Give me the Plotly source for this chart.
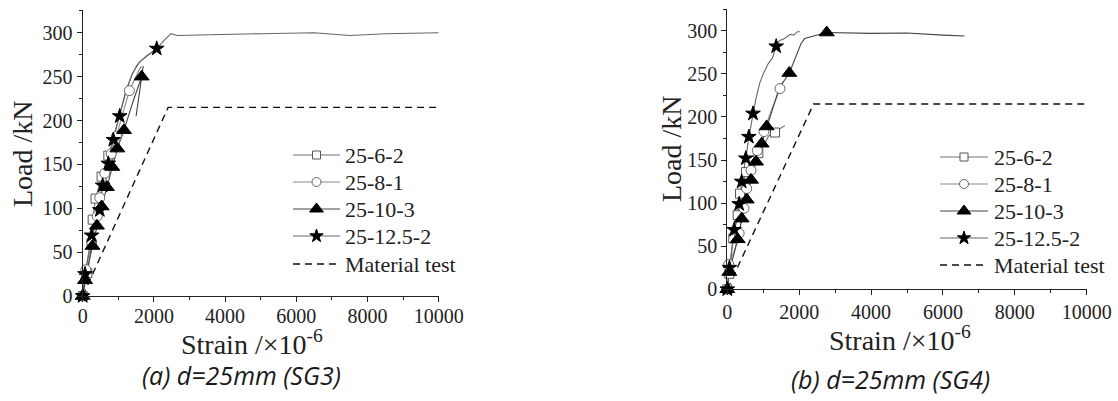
import plotly.graph_objects as go

# ---------------- data: SG3 (left panel) ----------------
sg3_62_x = [0, 130, 250, 280, 360, 530, 720, 900, 1060, 1240, 1380, 1520, 1640, 1800, 1950, 2080]
sg3_62_y = [0, 26, 59, 87, 111, 136, 160, 186, 211, 236, 252, 263, 268, 273, 277, 282]
sg3_62_mx = [0, 130, 250, 280, 360, 530, 720]
sg3_62_my = [0, 26, 59, 87, 111, 136, 160]

sg3_81_x = [0, 90, 250, 410, 480, 620, 800, 950, 1120, 1310, 1450, 1560, 1650]
sg3_81_y = [0, 30, 62, 91, 112, 140, 162, 182, 207, 234, 247, 256, 262]
sg3_81_mx = [0, 90, 250, 410, 480, 620, 800, 950, 1310]
sg3_81_my = [0, 30, 62, 91, 112, 140, 162, 182, 234]

sg3_103_x = [0, 65, 275, 400, 533, 680, 830, 973, 1160, 1400, 1657, 1700, 1640, 1570, 1500]
sg3_103_y = [0, 18, 57, 80, 102, 124, 147, 168, 189, 220, 250, 262, 245, 225, 205]
sg3_103_mx = [0, 65, 275, 400, 533, 680, 830, 973, 1160, 1657]
sg3_103_my = [0, 18, 57, 80, 102, 124, 147, 168, 189, 250]

sg3_125_x = [0, 65, 250, 480, 560, 720, 860, 1040, 1200, 1400, 1600, 1800, 2080, 2300, 2480,
             2650, 3500, 5000, 6500, 7500, 8500, 10000]
sg3_125_y = [0, 25, 69, 98, 126, 151, 178, 205, 232, 254, 267, 274, 282, 292, 299,
             297, 298, 299, 300, 297, 299, 300]
sg3_125_mx = [0, 65, 250, 480, 560, 720, 860, 1040, 2080]
sg3_125_my = [0, 25, 69, 98, 126, 151, 178, 205, 282]

# ---------------- data: SG4 (right panel) ----------------
sg4_62_x = [0, 56, 167, 289, 353, 520, 700, 863, 1000, 1150, 1327, 1450, 1605]
sg4_62_y = [0, 18, 59, 86, 111, 136, 150, 158, 166, 178, 182, 186, 190]
sg4_62_mx = [0, 56, 167, 289, 353, 520, 863, 1327]
sg4_62_my = [0, 18, 59, 86, 111, 136, 158, 182]

sg4_81_x = [0, 40, 200, 330, 465, 540, 660, 835, 1020, 1200, 1466, 1560]
sg4_81_y = [0, 29, 45, 65, 94, 117, 138, 161, 183, 205, 233, 242]
sg4_81_mx = [40, 330, 465, 540, 660, 835, 1020, 1466]
sg4_81_my = [29, 65, 94, 117, 138, 161, 183, 233]

sg4_103_x = [0, 56, 289, 400, 540, 660, 799, 956, 1096, 1250, 1440, 1725, 1900, 2050, 2150,
             2400, 2766, 4000, 5000, 6000, 6600]
sg4_103_y = [0, 20, 58, 82, 104, 127, 148, 169, 189, 210, 233, 251, 270, 285, 291,
             294, 298, 297, 297.5, 295, 294]
sg4_103_mx = [0, 56, 289, 400, 540, 660, 799, 956, 1096, 1725, 2766]
sg4_103_my = [0, 20, 58, 82, 104, 127, 148, 169, 189, 251, 298]

sg4_125_x = [0, 60, 190, 330, 400, 515, 600, 715, 800, 900, 1000, 1140, 1250, 1360, 1460,
             1550, 1650, 1750, 1850, 1950, 2020]
sg4_125_y = [0, 25, 69, 99, 125, 152, 177, 204, 222, 239, 250, 262, 268, 282, 289,
             290, 293, 296, 295, 299, 299]
sg4_125_mx = [0, 60, 190, 330, 400, 515, 600, 715, 1360]
sg4_125_my = [0, 25, 69, 99, 125, 152, 177, 204, 282]

# material test (bilinear), same for both panels
mat_x = [0, 2400, 10000]
mat_y = [0, 215, 215]

series_names = ["25-6-2", "25-8-1", "25-10-3", "25-12.5-2", "Material test"]
x_ticks = [0, 2000, 4000, 6000, 8000, 10000]
x_tick_text = ["0", "2000", "4000", "6000", "8000", "10000"]
y_ticks = [0, 50, 100, 150, 200, 250, 300]
y_tick_text = ["0", "50", "100", "150", "200", "250", "300"]

SERIF = "Liberation Serif"
INK = "#222222"

# line / marker styles per series
styles = {
    "25-6-2": dict(lc="#707070", sym="square", mfill="white", medge="#555555", ms=9, lms=8),
    "25-8-1": dict(lc="#8a8a8a", sym="circle", mfill="white", medge="#666666", ms=10, lms=9),
    "25-10-3": dict(lc="#444444", sym="triangle-up", mfill="black", medge="black", ms=13, lms=12),
    "25-12.5-2": dict(lc="#666666", sym="star", mfill="black", medge="black", ms=11, lms=10),
}

fig = go.Figure()


def add_panel(xa, ya, data):
    fig.add_trace(go.Scatter(x=mat_x, y=mat_y, mode="lines", xaxis=xa, yaxis=ya,
                             line=dict(color="#111111", width=1.4, dash="7px,5px"),
                             showlegend=False, hoverinfo="skip"))
    for name, (lx, ly, mx, my) in data:
        st = styles[name]
        fig.add_trace(go.Scatter(x=lx, y=ly, mode="lines", xaxis=xa, yaxis=ya,
                                 line=dict(color=st["lc"], width=1.1),
                                 showlegend=False, hoverinfo="skip"))
    for name, (lx, ly, mx, my) in data:
        st = styles[name]
        fig.add_trace(go.Scatter(x=mx, y=my, mode="markers", xaxis=xa, yaxis=ya,
                                 cliponaxis=False,
                                 marker=dict(symbol=st["sym"], size=st["ms"], color=st["mfill"],
                                             line=dict(color=st["medge"], width=1)),
                                 showlegend=False, hoverinfo="skip"))


add_panel("x", "y", [
    ("25-6-2", (sg3_62_x, sg3_62_y, sg3_62_mx, sg3_62_my)),
    ("25-8-1", (sg3_81_x, sg3_81_y, sg3_81_mx, sg3_81_my)),
    ("25-12.5-2", (sg3_125_x, sg3_125_y, sg3_125_mx, sg3_125_my)),
    ("25-10-3", (sg3_103_x, sg3_103_y, sg3_103_mx, sg3_103_my)),
])
add_panel("x2", "y2", [
    ("25-6-2", (sg4_62_x, sg4_62_y, sg4_62_mx, sg4_62_my)),
    ("25-8-1", (sg4_81_x, sg4_81_y, sg4_81_mx, sg4_81_my)),
    ("25-12.5-2", (sg4_125_x, sg4_125_y, sg4_125_mx, sg4_125_my)),
    ("25-10-3", (sg4_103_x, sg4_103_y, sg4_103_mx, sg4_103_my)),
])

# ---------------- hand-built legends on a pixel overlay ----------------
annotations = []


def add_legend(x0, x1, xt, rows):
    xm = (x0 + x1) / 2
    for name, yy in zip(series_names, rows):
        if name == "Material test":
            fig.add_trace(go.Scatter(x=[x0, x1], y=[yy, yy], mode="lines", xaxis="x3", yaxis="y3",
                                     line=dict(color="#111111", width=1.4, dash="7px,5px"),
                                     showlegend=False, hoverinfo="skip"))
        else:
            st = styles[name]
            fig.add_trace(go.Scatter(x=[x0, x1], y=[yy, yy], mode="lines", xaxis="x3", yaxis="y3",
                                     line=dict(color=st["lc"], width=1.2),
                                     showlegend=False, hoverinfo="skip"))
            fig.add_trace(go.Scatter(x=[xm], y=[yy], mode="markers", xaxis="x3", yaxis="y3",
                                     marker=dict(symbol=st["sym"], size=st["lms"], color=st["mfill"],
                                                 line=dict(color=st["medge"], width=1)),
                                     showlegend=False, hoverinfo="skip"))
        annotations.append(dict(x=xt, y=yy, xref="x3", yref="y3", text=name, showarrow=False,
                                xanchor="left", yanchor="middle",
                                font=dict(family=SERIF, size=22, color=INK)))


add_legend(293, 340, 343, [155, 182, 209, 236, 264])
add_legend(940, 988, 992, [157, 184, 211, 238, 265])

# axis titles and panel captions
for cx, cy in [(22, 154), (671, 149)]:
    annotations.append(dict(x=cx, y=cy, xref="x3", yref="y3", text="Load /kN", showarrow=False,
                            textangle=-90, xanchor="center", yanchor="middle",
                            font=dict(family=SERIF, size=28, color=INK)))
for cx, cy in [(252, 342), (900, 338)]:
    annotations.append(dict(x=cx, y=cy, xref="x3", yref="y3", text="Strain /×10<sup>-6</sup>",
                            showarrow=False, xanchor="center", yanchor="middle",
                            font=dict(family=SERIF, size=28, color=INK)))
for cx, cy, txt in [(241, 375, "(a) d=25mm (SG3)"), (890, 379, "(b) d=25mm (SG4)")]:
    annotations.append(dict(x=cx, y=cy, xref="x3", yref="y3", text="<i>" + txt + "</i>",
                            showarrow=False, xanchor="center", yanchor="middle",
                            font=dict(family="Open Sans", size=25, color="#1a1a1a")))

tick_font = dict(family=SERIF, size=20, color=INK)


def x_axis(standoff):
    return dict(range=[0, 10000], tickmode="array", tickvals=x_ticks, ticktext=x_tick_text,
                ticks="outside", ticklen=5, tickwidth=1.2, automargin=False,
                ticklabelstandoff=standoff,
                tickcolor=INK, showline=True, linecolor=INK, linewidth=1.2, showgrid=False,
                zeroline=False, tickfont=tick_font,
                minor=dict(dtick=1000, ticks="outside", ticklen=3, tickcolor=INK, tickwidth=1),
                fixedrange=True)


def y_axis():
    return dict(tickmode="array", tickvals=y_ticks, ticktext=y_tick_text, automargin=False,
                ticks="outside", ticklen=5, tickwidth=1.2, tickcolor=INK,
                showline=True, linecolor=INK, linewidth=1.2, showgrid=False, zeroline=False,
                tickfont=tick_font,
                minor=dict(dtick=25, ticks="outside", ticklen=3, tickcolor=INK, tickwidth=1),
                fixedrange=True)


fig.update_layout(
    width=1118, height=401,
    margin=dict(l=0, r=0, t=0, b=0, autoexpand=False),
    font=dict(family=SERIF, size=20, color=INK),
    paper_bgcolor="white", plot_bgcolor="rgba(0,0,0,0)",
    showlegend=False,
    xaxis=dict(x_axis(-3), domain=[82.7 / 1118, 438.7 / 1118], anchor="y"),
    yaxis=dict(y_axis(), domain=[(401 - 296) / 401, (401 - 10) / 401], range=[0, 326], anchor="x"),
    xaxis2=dict(x_axis(0), domain=[727.3 / 1118, 1086.7 / 1118], anchor="y2"),
    yaxis2=dict(y_axis(), domain=[(401 - 289.3) / 401, (401 - 9.3) / 401], range=[0, 325], anchor="x2"),
    xaxis3=dict(domain=[0, 1], range=[0, 1118], visible=False, anchor="y3", fixedrange=True,
                automargin=False),
    yaxis3=dict(domain=[0, 1], range=[401, 0], visible=False, anchor="x3", fixedrange=True,
                automargin=False),
    annotations=annotations,
)

fig.write_html("out.html")
